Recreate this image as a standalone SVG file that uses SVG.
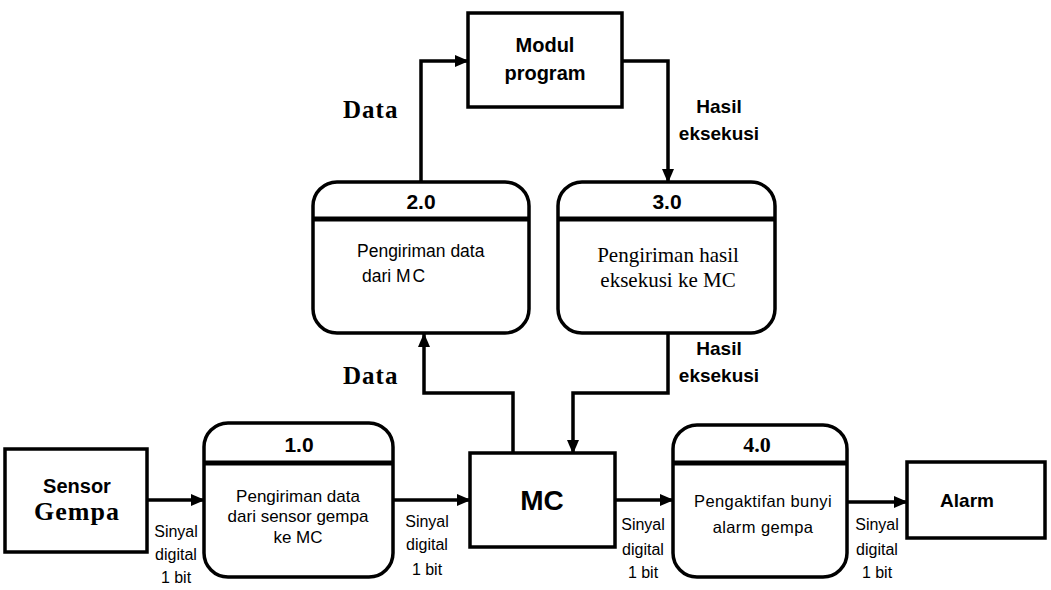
<svg xmlns="http://www.w3.org/2000/svg" width="1051" height="590" viewBox="0 0 1051 590">
<defs>
<marker id="ah" markerUnits="userSpaceOnUse" markerWidth="14" markerHeight="12" refX="13" refY="6" orient="auto">
<path d="M0,0 L14,6 L0,12 Z" fill="#000"/>
</marker>
<style>
.box{fill:#fff;stroke:#000;stroke-width:3.5}
.div{stroke:#000;stroke-width:5}
.ln{fill:none;stroke:#000;stroke-width:3.5;marker-end:url(#ah)}
.sans{font-family:"Liberation Sans",Arial,sans-serif;fill:#000}
.serif{font-family:"Liberation Serif","Times New Roman",serif;fill:#000}
.b{font-weight:bold}
.sig{font-family:"Liberation Sans",Arial,sans-serif;font-size:16px;text-anchor:middle;fill:#000}
.mid{text-anchor:middle}
</style>
</defs>
<rect width="1051" height="590" fill="#fff"/>

<g id="connectors">
<line class="ln" x1="147" y1="500" x2="204" y2="500"/>
<line class="ln" x1="393" y1="500" x2="470" y2="500"/>
<line class="ln" x1="615" y1="500" x2="673" y2="500"/>
<line class="ln" x1="847" y1="502" x2="907" y2="502"/>
<polyline class="ln" points="513,453 513,393 424,393 424,334"/>
<polyline class="ln" points="421,182 421,61 468,61"/>
<polyline class="ln" points="622,61 668,61 668,182"/>
<polyline class="ln" points="668,333 668,393 573,393 573,453"/>
</g>

<g id="labels">
<text class="serif b" x="343" y="118" font-size="25" letter-spacing="1">Data</text>
<text class="sans b mid" x="719" y="113" font-size="19">Hasil</text>
<text class="sans b mid" x="719" y="140" font-size="19">eksekusi</text>
<text class="serif b" x="343" y="384" font-size="25" letter-spacing="1">Data</text>
<text class="sans b mid" x="719" y="355" font-size="19">Hasil</text>
<text class="sans b mid" x="719" y="382" font-size="19">eksekusi</text>
<text class="sig" x="176" y="537">Sinyal</text>
<text class="sig" x="176" y="560">digital</text>
<text class="sig" x="176" y="583">1 bit</text>
<text class="sig" x="427" y="527">Sinyal</text>
<text class="sig" x="427" y="550">digital</text>
<text class="sig" x="427" y="575">1 bit</text>
<text class="sig" x="643" y="530">Sinyal</text>
<text class="sig" x="643" y="555">digital</text>
<text class="sig" x="643" y="578">1 bit</text>
<text class="sig" x="877" y="530">Sinyal</text>
<text class="sig" x="877" y="555">digital</text>
<text class="sig" x="877" y="578">1 bit</text>
</g>

<g id="modul">
<rect class="box" x="468" y="13" width="154" height="94"/>
<text class="sans b mid" x="545" y="52" font-size="20">Modul</text>
<text class="sans b mid" x="545" y="80" font-size="20">program</text>
</g>

<g id="p2">
<rect class="box" x="313" y="182" width="216" height="151" rx="24"/>
<line class="div" x1="313" y1="219" x2="529" y2="219"/>
<text class="sans b mid" x="421" y="209" font-size="21">2.0</text>
<text class="sans" x="357" y="257" font-size="17.5">Pengiriman data</text>
<text class="sans" x="362" y="282" font-size="17.5">dari <tspan letter-spacing="2">MC</tspan></text>
</g>

<g id="p3">
<rect class="box" x="558" y="182" width="217" height="151" rx="24"/>
<line class="div" x1="558" y1="219" x2="775" y2="219"/>
<text class="sans b mid" x="667" y="209" font-size="21">3.0</text>
<text class="serif mid" x="668" y="262" font-size="21">Pengiriman hasil</text>
<text class="serif mid" x="668" y="287" font-size="21">eksekusi ke MC</text>
</g>

<g id="sensor">
<rect class="box" x="5" y="449" width="142" height="103"/>
<text class="sans b mid" x="77" y="493" font-size="20">Sensor</text>
<text class="serif b mid" x="77" y="520" font-size="26" letter-spacing="1">Gempa</text>
</g>

<g id="p1">
<rect class="box" x="204" y="423" width="189" height="154" rx="24"/>
<line class="div" x1="204" y1="463" x2="393" y2="463"/>
<text class="sans b mid" x="299" y="452" font-size="21">1.0</text>
<text class="sans mid" x="298" y="502" font-size="17">Pengiriman data</text>
<text class="sans mid" x="298" y="522" font-size="17">dari sensor gempa</text>
<text class="sans mid" x="298" y="543" font-size="17">ke MC</text>
</g>

<g id="mc">
<rect class="box" x="470" y="453" width="145" height="94"/>
<text class="sans b mid" x="542" y="510" font-size="28">MC</text>
</g>

<g id="p4">
<rect class="box" x="673" y="425" width="174" height="152" rx="24"/>
<line class="div" x1="673" y1="463" x2="847" y2="463"/>
<text class="serif b mid" x="757" y="452" font-size="22">4.0</text>
<text class="sans mid" x="763" y="507" font-size="16.5" letter-spacing="0.4">Pengaktifan bunyi</text>
<text class="sans mid" x="763" y="533" font-size="16.5" letter-spacing="0.4">alarm gempa</text>
</g>

<g id="alarm">
<rect class="box" x="907" y="462" width="138" height="76"/>
<text class="sans b mid" x="967" y="507" font-size="19">Alarm</text>
</g>
</svg>
